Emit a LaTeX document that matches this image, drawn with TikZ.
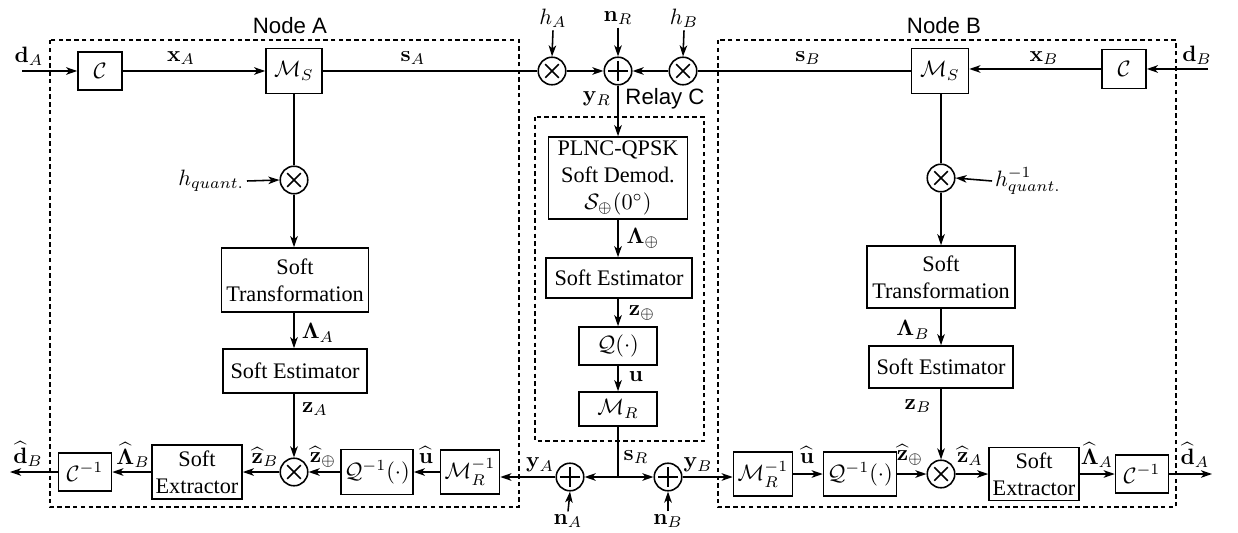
\documentclass[tikz,border=0pt]{standalone}
\usepackage{amsmath}
\usepackage[no-math]{fontspec}
\setmainfont{Liberation Serif}
\newfontfamily\labelfont{Liberation Sans}
\usetikzlibrary{arrows.meta}
\def\pxu{0.45}
\begin{document}
\begin{tikzpicture}[x=0.45pt,y=-0.45pt, line width=0.7pt,
  >={Stealth[length=5pt,width=3.4pt,inset=1.4pt]},
  blk/.style 2 args={draw, minimum width=#1*\pxu pt, minimum height=#2*\pxu pt, inner sep=1pt, align=center, font=\rmfamily},
  mult/.style={draw, circle, minimum size=12.4pt, inner sep=0pt,
    path picture={\draw (path picture bounding box.center) ++(45:4.3pt) -- ++(225:8.6pt);
                  \draw (path picture bounding box.center) ++(135:4.3pt) -- ++(-45:8.6pt);}},
  addc/.style={draw, circle, minimum size=12.4pt, inner sep=0pt,
    path picture={\draw (path picture bounding box.center) ++(0:4.5pt) -- ++(180:9pt);
                  \draw (path picture bounding box.center) ++(90:4.5pt) -- ++(-90:9pt);}},
  lbl/.style={inner sep=1pt},
  grp/.style={draw, dash pattern=on 2pt off 1.5pt, line width=0.6pt},
  ttl/.style={font=\labelfont, inner sep=1pt}]
\useasboundingbox (0,0) rectangle (1238,533);

% group frames
\draw[grp] (50,40) rectangle (519,507);
\draw[grp] (718,40) rectangle (1176,507);
\draw[grp] (535,117) rectangle (704,441);
\node[ttl] (tA) at (290,26) {Node A};
\node[ttl] (tB) at (944,26) {Node B};
\node[ttl] (tC) at (665,99) {Relay C};

% ---- Node A blocks
\node[blk={44}{38}] (cA) at (100,71) {$\mathcal{C}$};
\node[blk={56}{45}] (msA) at (294,71) {$\mathcal{M}_S$};
\node[mult] (hqA) at (294,180) {};
\node[blk={147}{64}] (stA) at (295,280) {Soft\\Transformation};
\node[blk={144}{44}] (seA) at (295,371) {Soft Estimator};
\node[mult] (mxA) at (294,472) {};
\node[blk={72}{45}] (qiA) at (377,472) {$\mathcal{Q}^{-1}(\cdot)$};
\node[blk={59}{44}] (mriA) at (470,472) {$\mathcal{M}_R^{-1}$};
\node[blk={90}{54}] (sxA) at (197,472) {Soft\\Extractor};
\node[blk={53}{38}] (ciA) at (85,472) {$\mathcal{C}^{-1}$};

% ---- channel
\node[mult] (hA) at (552,71) {};
\node[addc] (pR) at (618,71) {};
\node[mult] (hB) at (683,71) {};
\node[addc] (pA) at (570,477) {};
\node[addc] (pB) at (668,477) {};
\coordinate (j) at (618,477);

% ---- Relay
\node[blk={139}{82}] (plnc) at (618,178) {PLNC-QPSK\\Soft Demod.\\$\mathcal{S}_\oplus(0^\circ)$};
\node[blk={146}{40}] (seC) at (619,278) {Soft Estimator};
\node[blk={78}{38}] (qC) at (618,346) {$\mathcal{Q}(\cdot)$};
\node[blk={78}{34}] (mR) at (618,409) {$\mathcal{M}_R$};

% ---- Node B blocks
\node[blk={57}{45}] (msB) at (940,71) {$\mathcal{M}_S$};
\node[blk={44}{39}] (cB) at (1124,69) {$\mathcal{C}$};
\node[mult] (hqB) at (941,178) {};
\node[blk={148}{62}] (stB) at (941,277) {Soft\\Transformation};
\node[blk={144}{42}] (seB) at (941,367) {Soft Estimator};
\node[mult] (mxB) at (941,474) {};
\node[blk={59}{44}] (mriB) at (763,474) {$\mathcal{M}_R^{-1}$};
\node[blk={73}{44}] (qiB) at (860,474) {$\mathcal{Q}^{-1}(\cdot)$};
\node[blk={90}{53}] (sxB) at (1034,474) {Soft\\Extractor};
\node[blk={53}{38}] (ciB) at (1142,474) {$\mathcal{C}^{-1}$};

% ---- free ends
\coordinate (inA) at (22,71);
\coordinate (inB) at (1208,69);
\coordinate (outA) at (10,472);
\coordinate (outB) at (1212,474);

% ---- labels
\node[lbl] (ldA) at (29,56) {$\mathbf{d}_A$};
\node[lbl] (lxA) at (181,58) {$\mathbf{x}_A$};
\node[lbl] (lsA) at (413,58) {$\mathbf{s}_A$};
\node[lbl] (lhA) at (553,18) {$h_A$};
\node[lbl] (lnR) at (618,18) {$\mathbf{n}_R$};
\node[lbl] (lhB) at (684,18) {$h_B$};
\node[lbl] (lsB) at (808,58) {$\mathbf{s}_B$};
\node[lbl] (lxB) at (1044,58) {$\mathbf{x}_B$};
\node[lbl] (ldB) at (1197,55) {$\mathbf{d}_B$};
\node[lbl] (lyR) at (597,99) {$\mathbf{y}_R$};
\node[lbl] (lLC) at (643,238) {$\boldsymbol{\Lambda}_\oplus$};
\node[lbl] (lzC) at (642,313) {$\mathbf{z}_\oplus$};
\node[lbl] (lu) at (636,377) {$\mathbf{u}$};
\node[lbl] (lsR) at (636,457) {$\mathbf{s}_R$};
\node[lbl] (lyA) at (540,465) {$\mathbf{y}_A$};
\node[lbl] (lyB) at (698,465) {$\mathbf{y}_B$};
\node[lbl] (lnA) at (568,521) {$\mathbf{n}_A$};
\node[lbl] (lnB) at (668,521) {$\mathbf{n}_B$};
\node[lbl] (luA) at (426,455) {$\widehat{\mathbf{u}}$};
\node[lbl] (luB) at (807,455) {$\widehat{\mathbf{u}}$};
\node[lbl] (lzpA) at (323,457) {$\widehat{\mathbf{z}}_\oplus$};
\node[lbl] (lzpB) at (910,455) {$\widehat{\mathbf{z}}_\oplus$};
\node[lbl] (lzhB) at (265,457) {$\widehat{\mathbf{z}}_B$};
\node[lbl] (lzhA) at (970,456) {$\widehat{\mathbf{z}}_A$};
\node[lbl] (lLhB) at (133,455) {$\widehat{\boldsymbol{\Lambda}}_B$};
\node[lbl] (lLhA) at (1097,455) {$\widehat{\boldsymbol{\Lambda}}_A$};
\node[lbl] (ldhB) at (28,454) {$\widehat{\mathbf{d}}_B$};
\node[lbl] (ldhA) at (1195,455) {$\widehat{\mathbf{d}}_A$};
\node[lbl] (lLA) at (318,333) {$\boldsymbol{\Lambda}_A$};
\node[lbl] (lzA) at (315,409) {$\mathbf{z}_A$};
\node[lbl] (lLB) at (913,330) {$\boldsymbol{\Lambda}_B$};
\node[lbl] (lzB) at (918,406) {$\mathbf{z}_B$};
\node[lbl, anchor=east] (lhqA) at (247,181) {$h_{quant.}$};
\node[lbl, anchor=west] (lhqB) at (992,181) {$h^{-1}_{quant.}$};

% ---- connectors: top
\draw[->] (inA) -- (cA.west);
\draw[->] (cA) -- (msA);
\draw (msA.east) -- (hA.west);
\draw[->] (hA) -- (pR);
\draw[->] (hB) -- (pR);
\draw (msB.west) -- (hB.east);
\draw[->] (cB.west) -- (cB.west -| msB.east);
\draw[->] (inB) -- (cB.east);
\draw[->] (lhA.south) -- (hA.north);
\draw[->] (lnR.south) -- (pR.north);
\draw[->] (lhB.south) -- (hB.north);

% relay chain
\draw[->] (pR) -- (plnc);
\draw[->] (plnc) -- (plnc.south |- seC.north);
\draw[->] (plnc.south |- seC.south) -- (qC);
\draw[->] (qC) -- (mR);
\draw (mR.south) -- (j);
\draw[->] (j) -- (pA.east);
\draw[->] (j) -- (pB.west);
\draw[->] (pA.west) -- (pA.west -| mriA.east);
\draw[->] (pB.east) -- (pB.east -| mriB.west);
\draw[->] (lnA.north) -- (pA.south);
\draw[->] (lnB.north) -- (pB.south);

% Node A vertical chain
\draw (msA.south) -- (hqA.north);
\draw[->] (lhqA.east) -- (hqA.west);
\draw[->] (hqA.south) -- (hqA.south |- stA.north);
\draw[->] (stA.south -| hqA) -- (seA.north -| hqA);
\draw[->] (seA.south -| mxA) -- (mxA.north);

% Node A bottom row
\draw[->] (mriA) -- (qiA);
\draw[->] (qiA) -- (mxA);
\draw[->] (mxA) -- (sxA);
\draw[->] (sxA) -- (ciA);
\draw[->] (ciA.west) -- (outA);

% Node B vertical chain
\draw (msB.south -| hqB) -- (hqB.north);
\draw[->] (lhqB.west) -- (hqB.east);
\draw[->] (hqB.south) -- (hqB.south |- stB.north);
\draw[->] (stB.south -| mxB) -- (seB.north -| mxB);
\draw[->] (seB.south -| mxB) -- (mxB.north);

% Node B bottom row
\draw[->] (mriB) -- (qiB);
\draw[->] (qiB) -- (mxB);
\draw[->] (mxB) -- (sxB);
\draw[->] (sxB) -- (ciB);
\draw[->] (ciB.east) -- (outB);
\end{tikzpicture}
\end{document}
